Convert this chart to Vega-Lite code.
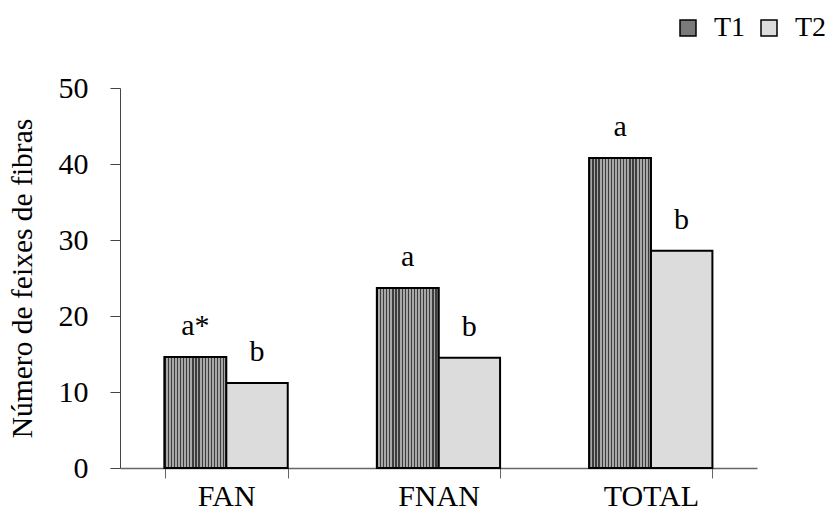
{
  "$schema": "https://vega.github.io/schema/vega-lite/v6.json",
  "width": 637,
  "height": 380,
  "autosize": {"type": "none"},
  "padding": {"left": 120, "top": 88, "right": 70, "bottom": 64},
  "background": "white",
  "config": {"view": {"stroke": null}, "font": "Liberation Serif"},
  "data": {
    "values": [
      {"group": "FAN", "series": "T1", "value": 14.6, "label": "a*"},
      {"group": "FAN", "series": "T2", "value": 11.2, "label": "b"},
      {"group": "FNAN", "series": "T1", "value": 23.7, "label": "a"},
      {"group": "FNAN", "series": "T2", "value": 14.5, "label": "b"},
      {"group": "TOTAL", "series": "T1", "value": 40.8, "label": "a"},
      {"group": "TOTAL", "series": "T2", "value": 28.6, "label": "b"}
    ]
  },
  "encoding": {
    "x": {
      "field": "group",
      "type": "nominal",
      "sort": null,
      "scale": {"paddingInner": 0.42, "paddingOuter": 0.21},
      "axis": {
        "title": null,
        "tickBand": "extent",
        "labelAngle": 0,
        "labelFontSize": 30,
        "labelFont": "Liberation Serif",
        "labelColor": "black",
        "labelPadding": 3,
        "tickSize": 10,
        "tickColor": "#666",
        "domainColor": "#666",
        "domainWidth": 1.5
      }
    },
    "xOffset": {"field": "series", "type": "nominal", "scale": {"paddingInner": 0, "paddingOuter": 0}},
    "y": {
      "field": "value",
      "type": "quantitative",
      "scale": {"domain": [0, 50]},
      "axis": {
        "title": "Número de feixes de fibras",
        "titleFontSize": 29.5,
        "titleFont": "Liberation Serif",
        "titleFontWeight": "normal",
        "titleColor": "black",
        "titlePadding": 21,
        "values": [0, 10, 20, 30, 40, 50],
        "grid": false,
        "labelFontSize": 30,
        "labelFont": "Liberation Serif",
        "labelColor": "black",
        "labelPadding": 22,
        "tickSize": 10,
        "tickColor": "#444",
        "domainColor": "#444"
      }
    }
  },
  "layer": [
    {
      "mark": {"type": "bar", "stroke": "black", "strokeWidth": 2},
      "encoding": {
        "color": {
          "field": "series",
          "type": "nominal",
          "scale": {"range": ["#7a7a7a", "#dcdcdc"]},
          "legend": {
            "title": null,
            "orient": "none",
            "legendX": 554,
            "legendY": -74,
            "direction": "horizontal",
            "padding": 0,
            "symbolType": "square",
            "symbolSize": 256,
            "symbolStrokeColor": "black",
            "symbolStrokeWidth": 1.5,
            "symbolOpacity": 1,
            "labelFontSize": 28,
            "labelFont": "Liberation Serif",
            "labelColor": "black",
            "labelOffset": 12,
            "columnPadding": 9,
            "encode": {
              "symbols": {
                "update": {
                  "stroke": {"value": "black"},
                  "strokeWidth": {"value": 1.5}
                }
              }
            }
          }
        }
      }
    },
    {
      "transform": [{"filter": "datum.series === 'T1'"}],
      "mark": {
        "type": "bar",
        "stroke": "black",
        "strokeWidth": 2,
        "fill": {
          "gradient": "linear", "x1": 0, "x2": 1, "y1": 0, "y2": 0,
          "stops": [
            {"offset": 0, "color": "#3c3c3c"}, {"offset": 0.02, "color": "#3c3c3c"}, {"offset": 0.02, "color": "#a8a8a8"}, {"offset": 0.05, "color": "#a8a8a8"},
            {"offset": 0.05, "color": "#3c3c3c"}, {"offset": 0.07, "color": "#3c3c3c"}, {"offset": 0.07, "color": "#a8a8a8"}, {"offset": 0.10, "color": "#a8a8a8"},
            {"offset": 0.10, "color": "#3c3c3c"}, {"offset": 0.12, "color": "#3c3c3c"}, {"offset": 0.12, "color": "#a8a8a8"}, {"offset": 0.15, "color": "#a8a8a8"},
            {"offset": 0.15, "color": "#3c3c3c"}, {"offset": 0.17, "color": "#3c3c3c"}, {"offset": 0.17, "color": "#a8a8a8"}, {"offset": 0.20, "color": "#a8a8a8"},
            {"offset": 0.20, "color": "#3c3c3c"}, {"offset": 0.22, "color": "#3c3c3c"}, {"offset": 0.22, "color": "#a8a8a8"}, {"offset": 0.25, "color": "#a8a8a8"},
            {"offset": 0.25, "color": "#3c3c3c"}, {"offset": 0.27, "color": "#3c3c3c"}, {"offset": 0.27, "color": "#a8a8a8"}, {"offset": 0.30, "color": "#a8a8a8"},
            {"offset": 0.30, "color": "#3c3c3c"}, {"offset": 0.32, "color": "#3c3c3c"}, {"offset": 0.32, "color": "#a8a8a8"}, {"offset": 0.35, "color": "#a8a8a8"},
            {"offset": 0.35, "color": "#3c3c3c"}, {"offset": 0.37, "color": "#3c3c3c"}, {"offset": 0.37, "color": "#a8a8a8"}, {"offset": 0.40, "color": "#a8a8a8"},
            {"offset": 0.40, "color": "#3c3c3c"}, {"offset": 0.42, "color": "#3c3c3c"}, {"offset": 0.42, "color": "#a8a8a8"}, {"offset": 0.45, "color": "#a8a8a8"},
            {"offset": 0.45, "color": "#3c3c3c"}, {"offset": 0.47, "color": "#3c3c3c"}, {"offset": 0.47, "color": "#a8a8a8"}, {"offset": 0.50, "color": "#a8a8a8"},
            {"offset": 0.50, "color": "#3c3c3c"}, {"offset": 0.52, "color": "#3c3c3c"}, {"offset": 0.52, "color": "#a8a8a8"}, {"offset": 0.55, "color": "#a8a8a8"},
            {"offset": 0.55, "color": "#3c3c3c"}, {"offset": 0.57, "color": "#3c3c3c"}, {"offset": 0.57, "color": "#a8a8a8"}, {"offset": 0.60, "color": "#a8a8a8"},
            {"offset": 0.60, "color": "#3c3c3c"}, {"offset": 0.62, "color": "#3c3c3c"}, {"offset": 0.62, "color": "#a8a8a8"}, {"offset": 0.65, "color": "#a8a8a8"},
            {"offset": 0.65, "color": "#3c3c3c"}, {"offset": 0.67, "color": "#3c3c3c"}, {"offset": 0.67, "color": "#a8a8a8"}, {"offset": 0.70, "color": "#a8a8a8"},
            {"offset": 0.70, "color": "#3c3c3c"}, {"offset": 0.72, "color": "#3c3c3c"}, {"offset": 0.72, "color": "#a8a8a8"}, {"offset": 0.75, "color": "#a8a8a8"},
            {"offset": 0.75, "color": "#3c3c3c"}, {"offset": 0.77, "color": "#3c3c3c"}, {"offset": 0.77, "color": "#a8a8a8"}, {"offset": 0.80, "color": "#a8a8a8"},
            {"offset": 0.80, "color": "#3c3c3c"}, {"offset": 0.82, "color": "#3c3c3c"}, {"offset": 0.82, "color": "#a8a8a8"}, {"offset": 0.85, "color": "#a8a8a8"},
            {"offset": 0.85, "color": "#3c3c3c"}, {"offset": 0.87, "color": "#3c3c3c"}, {"offset": 0.87, "color": "#a8a8a8"}, {"offset": 0.90, "color": "#a8a8a8"},
            {"offset": 0.90, "color": "#3c3c3c"}, {"offset": 0.92, "color": "#3c3c3c"}, {"offset": 0.92, "color": "#a8a8a8"}, {"offset": 0.95, "color": "#a8a8a8"},
            {"offset": 0.95, "color": "#3c3c3c"}, {"offset": 0.97, "color": "#3c3c3c"}, {"offset": 0.97, "color": "#a8a8a8"}, {"offset": 1, "color": "#a8a8a8"}
          ]
        }
      }
    },
    {
      "mark": {"type": "text", "dy": -22, "baseline": "alphabetic", "fontSize": 30, "font": "Liberation Serif", "color": "black"},
      "encoding": {"text": {"field": "label"}}
    }
  ]
}
